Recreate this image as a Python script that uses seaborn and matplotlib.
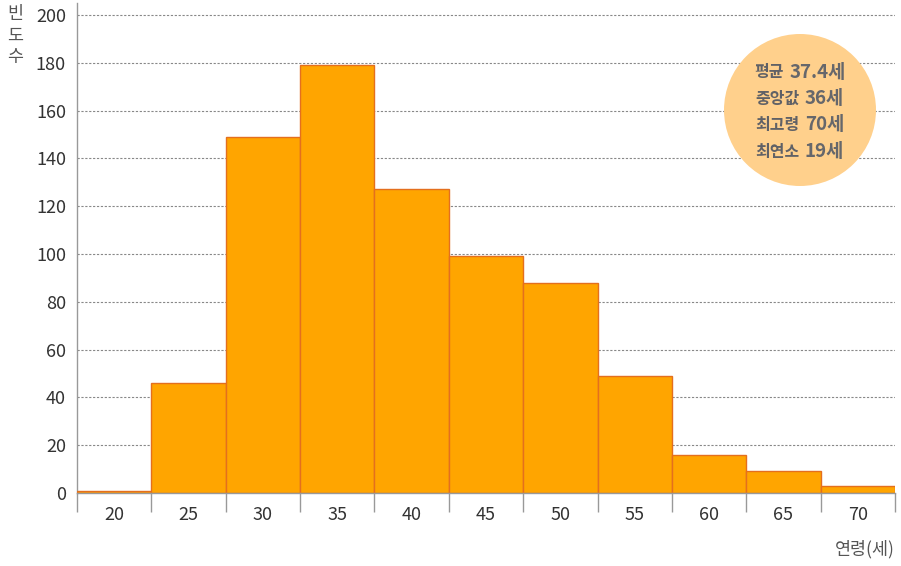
import numpy as np
import matplotlib
matplotlib.use("Agg")
import matplotlib.pyplot as plt
from matplotlib.patches import Ellipse
import seaborn as sns

# age class centres and their frequencies
ages = [20, 25, 30, 35, 40, 45, 50, 55, 60, 65, 70]
counts = [1, 46, 149, 179, 127, 99, 88, 49, 16, 9, 3]
bin_edges = [17.5, 22.5, 27.5, 32.5, 37.5, 42.5, 47.5, 52.5, 57.5, 62.5, 67.5, 72.5]
y_ticks = [0, 20, 40, 60, 80, 100, 120, 140, 160, 180, 200]

stat_names = ["평균", "중앙값", "최고령", "최연소"]
stat_values = ["37.4세", "36세", "70세", "19세"]

sns.set_theme(style="white")
plt.rcParams['font.family'] = ['Noto Sans CJK KR', 'DejaVu Sans']

fig = plt.figure(figsize=(9.01, 5.66), dpi=100)
ax = fig.add_axes([77 / 901, 73 / 566, 818 / 901, 490 / 566])

sns.histplot(x=ages, weights=counts, bins=bin_edges, ax=ax,
             color="#FFA500", alpha=1.0, edgecolor="#E46F1E", linewidth=1.0,
             zorder=3)

ax.set_xlim(bin_edges[0], bin_edges[-1])
ax.set_ylim(0, 205)
ax.set_yticks(y_ticks)
ax.set_yticklabels([str(v) for v in y_ticks], fontsize=13, color="#333333")
ax.set_xticks(ages)
ax.set_xticklabels([str(a) for a in ages], fontsize=13, color="#333333")
ax.set_xticks(bin_edges, minor=True)
ax.tick_params(axis="x", which="major", length=0, pad=9)
ax.tick_params(axis="x", which="minor", length=14, width=1, color="#999999",
               direction="out", bottom=True)
ax.tick_params(axis="y", length=0, pad=8)
ax.set_xlabel("")
ax.set_ylabel("")

for v in y_ticks[1:]:
    ax.axhline(v, color="#888888", linestyle=(0, (2, 1.5)), linewidth=0.8, zorder=1)

for s in ["top", "right"]:
    ax.spines[s].set_visible(False)
for s in ["left", "bottom"]:
    ax.spines[s].set_color("#999999")
    ax.spines[s].set_linewidth(1.0)
ax.spines["bottom"].set_zorder(4)

# axis titles
for i, ch in enumerate("빈도수"):
    fig.text(15 / 901, 1 - (14 + i * 21.5) / 566, ch, ha="center", va="center",
             fontsize=12.5, color="#555555")
fig.text(895 / 901, 1 - 549 / 566, "연령(세)", ha="right", va="center",
         fontsize=12.5, color="#555555")

# summary bubble
circ = Ellipse((800 / 901, 1 - 110 / 566), 152 / 901, 152 / 566,
               transform=fig.transFigure, facecolor="#FFD08C", edgecolor="none",
               zorder=5)
fig.add_artist(circ)

renderer = fig.canvas.get_renderer()
gap = 5
for i, (name, val) in enumerate(zip(stat_names, stat_values)):
    ypos = 1 - (72 + i * 26.5) / 566
    t1 = fig.text(0, ypos, name, ha="left", va="center", fontsize=11.5,
                  color="#606166", fontweight="bold", zorder=6)
    t2 = fig.text(0, ypos, val, ha="left", va="center", fontsize=13.5,
                  color="#66676b", fontweight="bold", zorder=6)
    w1 = t1.get_window_extent(renderer).width
    w2 = t2.get_window_extent(renderer).width
    x0 = 800 - (w1 + gap + w2) / 2
    t1.set_x(x0 / 901)
    t2.set_x((x0 + w1 + gap) / 901)

fig.savefig("out.png", dpi=100)
